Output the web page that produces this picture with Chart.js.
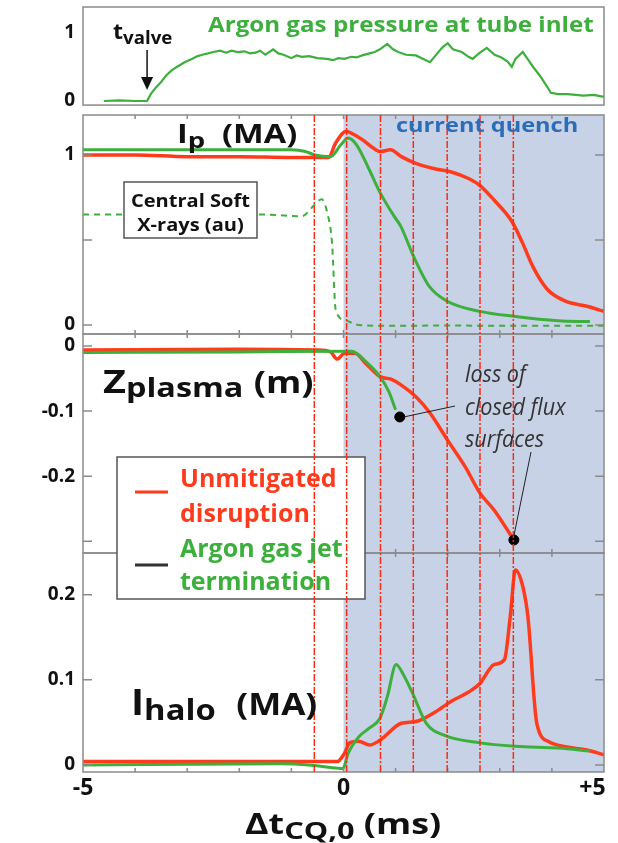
<!DOCTYPE html>
<html>
<head>
<meta charset="utf-8">
<script src="https://cdn.jsdelivr.net/npm/chart.js"></script>
<style>
  body { margin: 0; background: #fff; }
  #wrap { position: relative; width: 618px; height: 843px; overflow: hidden; }
  #myChart { position: absolute; left: 0; top: 0; }
  .lbl { position: absolute; font-family: 'Open Sans', sans-serif; font-weight: bold; white-space: nowrap; line-height: 1; color: #111; transform-origin: 0 0; }
</style>
</head>
<body>
<div id="wrap">
  <canvas id="myChart" width="618" height="843"></canvas>
</div>
<script>
//x axis (ms)
const xTicks = [-5, 0, 5];
const quenchStart = 0;
const markTimes = [-0.56, 0.06, 0.71, 1.34, 1.99, 2.62, 3.26];
const tValve = -3.77;

//argon gas pressure at tube inlet
const gasT = [-4.6, -4.3, -4.0, -3.77, -3.7, -3.6, -3.5, -3.4, -3.3, -3.2, -3.05, -2.9, -2.8, -2.71, -2.6, -2.5, -2.37, -2.25, -2.15, -2.03, -1.9, -1.8, -1.69, -1.6, -1.5, -1.35, -1.25, -1.15, -1.0, -0.9, -0.8, -0.66, -0.5, -0.32, -0.2, -0.1, 0.02, 0.15, 0.25, 0.36, 0.5, 0.6, 0.7, 0.84, 0.95, 1.05, 1.2, 1.39, 1.5, 1.66, 1.8, 1.9, 2.0, 2.1, 2.27, 2.4, 2.48, 2.6, 2.75, 2.9, 3.03, 3.15, 3.23, 3.3, 3.44, 3.55, 3.64, 3.78, 3.9, 3.98, 4.12, 4.3, 4.46, 4.6, 4.8, 5.0];
const gasP = [0.0, 0.01, 0.0, 0.0, 0.1, 0.2, 0.28, 0.38, 0.45, 0.5, 0.57, 0.62, 0.66, 0.68, 0.7, 0.72, 0.74, 0.71, 0.74, 0.72, 0.73, 0.7, 0.71, 0.74, 0.68, 0.76, 0.7, 0.68, 0.63, 0.67, 0.65, 0.66, 0.63, 0.62, 0.6, 0.63, 0.62, 0.65, 0.64, 0.67, 0.7, 0.72, 0.76, 0.84, 0.76, 0.72, 0.68, 0.67, 0.63, 0.57, 0.7, 0.79, 0.85, 0.76, 0.72, 0.65, 0.62, 0.7, 0.78, 0.68, 0.64, 0.58, 0.5, 0.62, 0.72, 0.6, 0.5, 0.36, 0.22, 0.12, 0.1, 0.1, 0.09, 0.08, 0.09, 0.06];

//plasma current Ip (MA)
const ipRedT = [-5, -4, -3, -2, -1, -0.5, -0.29, -0.15, 0.05, 0.2, 0.36, 0.53, 0.7, 0.9, 1.11, 1.39, 1.73, 2.07, 2.41, 2.62, 2.89, 3.23, 3.44, 3.64, 3.91, 4.26, 4.67, 5.0];
const ipRed = [1.0, 1.0, 0.99, 0.99, 0.985, 0.985, 0.985, 1.07, 1.14, 1.12, 1.09, 1.05, 1.02, 1.03, 0.99, 0.95, 0.92, 0.9, 0.86, 0.82, 0.735, 0.61, 0.48, 0.34, 0.21, 0.14, 0.11, 0.08];
const ipGreenT = [-5, -3, -1, -0.73, -0.55, -0.25, -0.05, 0.09, 0.25, 0.5, 0.7, 0.97, 1.1, 1.35, 1.65, 1.99, 2.62, 3.3, 4.12, 4.73];
const ipGreen = [1.03, 1.03, 1.03, 1.02, 1.0, 0.99, 1.06, 1.1, 1.06, 0.91, 0.78, 0.64, 0.58, 0.4, 0.225, 0.14, 0.08, 0.05, 0.025, 0.02];
//central soft x-rays (au)
const sxrT = [-5, -4, -3, -1.62, -0.8, -0.56, -0.42, -0.32, -0.22, -0.15, 0.02, 0.29, 1, 2, 3, 4, 5];
const sxr = [0.65, 0.65, 0.65, 0.65, 0.64, 0.705, 0.74, 0.67, 0.48, 0.09, 0.03, 0.0, -0.005, -0.003, -0.005, -0.004, -0.005];

//vertical position Zplasma (m)
const zRedT = [-5, -2, -0.5, -0.25, -0.12, 0.02, 0.22, 0.43, 0.7, 0.91, 1.11, 1.39, 1.66, 2.0, 2.34, 2.62, 2.89, 3.27];
const zRed = [-0.006, -0.005, -0.006, -0.009, -0.02, -0.011, -0.011, -0.027, -0.047, -0.051, -0.06, -0.078, -0.103, -0.145, -0.186, -0.226, -0.252, -0.298];
const zGreenT = [-5, -2, 0.16, 0.43, 0.7, 0.87, 1.0];
const zGreen = [-0.01, -0.009, -0.008, -0.024, -0.047, -0.07, -0.098];
//loss of closed flux surfaces
const lossT = [1.08, 3.27];
const lossZ = [-0.109, -0.298];

//halo current (MA)
const haloRedT = [-5, -2, -0.12, 0.02, 0.12, 0.29, 0.5, 0.7, 1.11, 1.39, 1.73, 2.07, 2.41, 2.62, 2.89, 3.09, 3.2, 3.3, 3.44, 3.54, 3.71, 3.95, 4.26, 4.67, 5.0];
const haloRed = [0.004, 0.004, 0.004, 0.014, 0.026, 0.028, 0.0235, 0.029, 0.049, 0.051, 0.061, 0.075, 0.086, 0.096, 0.118, 0.124, 0.174, 0.229, 0.21, 0.174, 0.049, 0.027, 0.0215, 0.0176, 0.012];
const haloGreenT = [-5, -1.21, -0.66, -0.25, -0.01, 0.09, 0.29, 0.5, 0.7, 0.84, 1.01, 1.15, 1.32, 1.59, 1.93, 2.62, 3.3, 4.12, 4.73];
const haloGreen = [0.0, 0.0015, 0.0, -0.003, -0.004, 0.014, 0.033, 0.0435, 0.055, 0.08, 0.118, 0.106, 0.085, 0.049, 0.035, 0.026, 0.022, 0.02, 0.0165];

//tick labels
const topTicks = [0, 1];
const ipTicks = [0, 1];
const zTicks = [-0.2, -0.1, 0];
const haloTicks = [0, 0.1, 0.2];
//small inner tick marks
const ipInner = [0, 0.5, 1];
const zInner = [0, -0.1, -0.2, -0.3];
const haloInner = [0, 0.1, 0.2];

const red = '#ff3b1e';
const green = '#3daf3d';

function pts(t, v) {
  return t.map((x, i) => ({x: x, y: v[i]}));
}

//frames, shading, marker lines, boxes
const decor = {
  id: 'decor',
  beforeDatasetsDraw(chart) {
    const {ctx, scales} = chart;
    const x0 = scales.x.getPixelForValue(quenchStart);
    ctx.save();
    ctx.fillStyle = '#c8d2e6';
    ctx.fillRect(x0, scales.yIp.top, scales.x.right - x0, scales.yHalo.bottom - scales.yIp.top);
    ctx.restore();
  },
  afterDatasetsDraw(chart) {
    const {ctx, scales} = chart;
    const x = scales.x;
    ctx.save();

    const panels = [
      [scales.yTop, scales.yTop.top, scales.yTop.getPixelForValue(-0.06), []],
      [scales.yIp, scales.yIp.top, scales.yIp.bottom, ipInner],
      [scales.yZ, scales.yZ.top, scales.yZ.bottom, zInner],
      [scales.yHalo, scales.yHalo.top, scales.yHalo.bottom, haloInner]
    ];
    ctx.strokeStyle = '#8a8a8a';
    ctx.lineWidth = 1.5;
    panels.forEach(p => {
      const [s, top, bottom, inner] = p;
      ctx.strokeRect(x.left, top, x.right - x.left, bottom - top);
      ctx.beginPath();
      inner.forEach(v => {
        const y = s.getPixelForValue(v);
        ctx.moveTo(x.left, y); ctx.lineTo(x.left + 9, y);
        ctx.moveTo(x.right, y); ctx.lineTo(x.right - 9, y);
      });
      if (inner.length) {
        for (let t = -4; t <= 4; t++) {
          const px = x.getPixelForValue(t);
          ctx.moveTo(px, top); ctx.lineTo(px, top + 4);
          ctx.moveTo(px, bottom); ctx.lineTo(px, bottom - 4);
        }
      }
      ctx.stroke();
    });

    //soft x-ray label box
    ctx.fillStyle = '#fff';
    ctx.fillRect(124, 182, 133, 56);
    ctx.strokeStyle = '#555';
    ctx.lineWidth = 1.5;
    ctx.strokeRect(124, 182, 133, 56);

    //legend box
    ctx.fillRect(117, 457, 248, 142);
    ctx.strokeRect(117, 457, 248, 142);
    ctx.lineWidth = 3;
    ctx.strokeStyle = red;
    ctx.beginPath(); ctx.moveTo(135, 492); ctx.lineTo(168, 492); ctx.stroke();
    ctx.strokeStyle = '#333';
    ctx.beginPath(); ctx.moveTo(135, 565); ctx.lineTo(168, 565); ctx.stroke();

    //red dash-dot markers
    ctx.strokeStyle = '#ff2a10';
    ctx.lineWidth = 1.5;
    ctx.setLineDash([7, 2, 2, 2]);
    markTimes.forEach(t => {
      const px = x.getPixelForValue(t);
      ctx.beginPath();
      ctx.moveTo(px, scales.yIp.top);
      ctx.lineTo(px, scales.yHalo.bottom);
      ctx.stroke();
    });
    ctx.setLineDash([]);

    //t valve arrow
    const ax = x.getPixelForValue(tValve);
    ctx.strokeStyle = '#111';
    ctx.fillStyle = '#111';
    ctx.lineWidth = 1.5;
    ctx.beginPath(); ctx.moveTo(ax, 50); ctx.lineTo(ax, 82); ctx.stroke();
    ctx.beginPath(); ctx.moveTo(ax - 6, 77); ctx.lineTo(ax + 6, 77); ctx.lineTo(ax, 90); ctx.closePath(); ctx.fill();

    //leaders to loss of closed flux surfaces
    const z = scales.yZ;
    ctx.strokeStyle = '#222';
    ctx.lineWidth = 1;
    ctx.beginPath();
    ctx.moveTo(455, 406);
    ctx.lineTo(x.getPixelForValue(lossT[0]) + 4, z.getPixelForValue(lossZ[0]));
    ctx.moveTo(531, 452);
    ctx.lineTo(x.getPixelForValue(lossT[1]), z.getPixelForValue(lossZ[1]) - 4);
    ctx.stroke();
    ctx.restore();
  }
};

function yAxis(min, max, weight, stackWeight, ticks) {
  return {
    type: 'linear', position: 'left', stack: 'panels', stackWeight: stackWeight, weight: weight,
    min: min, max: max,
    grid: {display: false, drawTicks: false}, border: {display: false},
    ticks: {color: '#111', padding: 8, font: {family: 'Open Sans', weight: 'bold', size: 19}, callback: v => String(v)},
    afterBuildTicks: s => { s.ticks = ticks.map(v => ({value: v})); },
    afterFit: s => { s.width = 83; s.paddingTop = 0; s.paddingBottom = 0; }
  };
}

function line(t, v, axis, color, width, extra) {
  return Object.assign({
    type: 'line', data: pts(t, v), yAxisID: axis, borderColor: color, borderWidth: width,
    pointRadius: 0, fill: false, cubicInterpolationMode: 'monotone'
  }, extra || {});
}

new Chart(document.getElementById('myChart'), {
  type: 'line',
  data: {
    datasets: [
      {type: 'scatter', data: pts(lossT, lossZ), yAxisID: 'yZ', pointRadius: 5, pointBackgroundColor: '#000', pointBorderColor: '#000', showLine: false},
      line(gasT, gasP, 'yTop', green, 2.2, {cubicInterpolationMode: 'default', tension: 0}),
      line(ipGreenT, ipGreen, 'yIp', green, 3),
      line(ipRedT, ipRed, 'yIp', red, 3.5),
      line(sxrT, sxr, 'yIp', green, 2, {borderDash: [6, 5]}),
      line(zGreenT, zGreen, 'yZ', green, 3),
      line(zRedT, zRed, 'yZ', red, 3.5),
      line(haloGreenT, haloGreen, 'yHalo', green, 3),
      line(haloRedT, haloRed, 'yHalo', red, 3.5)
    ]
  },
  options: {
    responsive: false,
    animation: false,
    events: [],
    devicePixelRatio: 1,
    layout: {padding: {top: 7, right: 14, left: 0, bottom: 0}},
    plugins: {legend: {display: false}, tooltip: {enabled: false}},
    scales: {
      x: {
        type: 'linear', min: -5, max: 5,
        grid: {display: false, drawTicks: false}, border: {display: false},
        ticks: {color: '#111', padding: 3, maxRotation: 0, font: {family: 'Open Sans', weight: 'bold', size: 23},
          callback: v => v > 0 ? '+' + v + '\u2002\u2002' : String(v)},
        afterBuildTicks: s => { s.ticks = xTicks.map(v => ({value: v})); },
        afterFit: s => { s.height = 71; s.paddingLeft = 0; s.paddingRight = 0; }
      },
      yTop: yAxis(-0.206, 1.382, 4, 108, topTicks),
      yIp: yAxis(-0.053, 1.235, 3, 219, ipTicks),
      yZ: yAxis(-0.318, 0.0185, 2, 219, zTicks),
      yHalo: yAxis(-0.0082, 0.249, 1, 219, haloTicks)
    }
  },
  plugins: [decor]
});

//text labels
const wrap = document.getElementById('wrap');
function addLabel(html, left, base, size, css) {
  const d = document.createElement('div');
  d.className = 'lbl';
  d.innerHTML = html;
  d.style.left = left + 'px';
  d.style.top = (base - 0.888 * size) + 'px';
  d.style.fontSize = size + 'px';
  if (css) d.style.cssText += css;
  wrap.appendChild(d);
}
function sub(text, size, drop) {
  return '<span style="font-size:' + size + 'px;position:relative;top:' + drop + 'px">' + text + '</span>';
}
const ital = 'font-weight:normal;font-style:italic;color:#333;transform:scaleX(0.9)';

addLabel('Argon gas pressure at tube inlet', 208, 33, 21, 'color:' + green + ';transform:scaleX(1.15)');
addLabel('t' + sub('valve', 17, 5), 113, 40, 21, 'transform:scaleX(1.1)');
addLabel('I' + sub('p', 22, 5) + '&nbsp; (MA)', 177, 143, 26, 'transform:scaleX(1.25)');
addLabel('current quench', 396, 133, 19, 'color:#2c6db8;transform:scaleX(1.24)');
addLabel('Central Soft', 124, 207, 17, 'width:133px;text-align:center;transform:scaleX(1.18);transform-origin:50% 0');
addLabel('X-rays (au)', 124, 231, 17, 'width:133px;text-align:center;transform:scaleX(1.18);transform-origin:50% 0');
addLabel('Z' + sub('plasma', 27, 4) + ' <span style="font-size:30px">(m)</span>', 103, 393, 33, 'transform:scaleX(1.2)');
addLabel('loss of', 465, 382, 24, ital);
addLabel('closed flux', 465, 415, 24, ital);
addLabel('surfaces', 465, 447, 24, ital);
addLabel('Unmitigated', 180, 487, 25, 'color:' + red);
addLabel('disruption', 180, 522, 25, 'color:' + red);
addLabel('Argon gas jet', 180, 557, 25, 'color:' + green);
addLabel('termination', 180, 590, 25, 'color:' + green);
addLabel('I' + sub('halo', 29, 5) + '&nbsp; <span style="font-size:31px">(MA)</span>', 131, 715, 35, 'transform:scaleX(1.13)');
addLabel('\u0394t' + sub('CQ,0', 24, 5) + ' (ms)', 245, 834, 28, 'transform:scaleX(1.28)');
</script>
</body>
</html>
